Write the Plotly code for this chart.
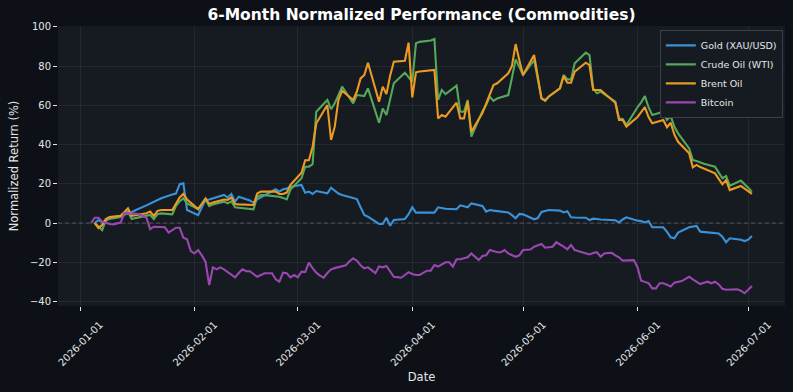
import plotly.graph_objects as go

# ---------------- data ----------------
# business-day dates shared by the three commodity series
comm_days = {
    1: [5, 6, 7, 8, 9, 12, 13, 14, 15, 16, 19, 20, 21, 22, 23, 26, 27, 28, 29, 30],
    2: [2, 3, 4, 5, 6, 9, 10, 11, 12, 13, 16, 17, 18, 19, 20, 23, 24, 25, 26, 27],
    3: [2, 3, 4, 5, 6, 9, 10, 11, 12, 13, 16, 17, 18, 19, 20, 23, 24, 25, 26, 27, 30, 31],
    4: [1, 2, 3, 6, 7, 8, 9, 10, 13, 14, 15, 16, 17, 20, 21, 22, 23, 24, 27, 28, 29, 30],
    5: [1, 4, 5, 6, 7, 8, 11, 12, 13, 14, 15, 18, 19, 20, 21, 22, 26, 27, 28, 29],
    6: [1, 2, 3, 4, 5, 8, 9, 10, 11, 12, 15, 16, 17, 18, 19, 22, 23, 24, 25, 26, 29, 30],
    7: [1, 2],
}

gold = (
    [0, 1.5, 0.5, 1, 2.5, 3.5, 5, 4.5, 5.5, 6.5, 9, 10, 11, 12, 12.6, 14.5, 15, 19.8, 20.2, 6.6]
    + [4, 8, 11.7, 12, 12.6, 14.3, 13, 14.8, 10.9, 13.4, 11.5, 10.3, 12, 13.1, 14, 17.2, 16, 17.2, 17.5, 18.5]
    + [19.4, 15.4, 16, 14.8, 16.3, 15.1, 18, 16.5, 15, 14.3, 12.6, 12.2, 8, 4.1, 3.2, -0.5, -0.5, 2.7, -1.4, 1.5, 2, 4.5]
    + [8, 5.3, 5.3, 5.3, 5.3, 8, 7.6, 7.3, 7, 9, 8.5, 8, 10, 8.7, 5.8, 6.6, 6.3, 6, 5.4, 4, 2.4, 4.6]
    + [4.4, 1.9, 2.5, 5.6, 6.2, 6.6, 6.3, 5.4, 6, 2.9, 2.8, 2.7, 1.5, 2.2, 2, 1.8, 1.4, 0.3, 1.8, 2.9]
    + [1.2, 1, 0.3, 1, -2.2, -2.2, -4.5, -7.3, -7.8, -4.9, -2.2, -2, -1.5, -4.4, -4.6, -5, -5.3, -7, -9.8, -7.8, -8.5, -9.2]
    + [-8.5, -6.6]
)

crude = (
    [0, -2, -3.6, 1.5, 2, 3, 4, 6, 2, 2.5, 3.5, 4.1, 2, 4.5, 4.9, 4.4, 8.7, 11, 12.6, 10]
    + [7, 9.5, 12, 8.6, 9.5, 10.9, 10, 11, 8, 7.8, 7.4, 7, 13.4, 14.3, 14.2, 13.8, 13.4, 12.8, 12, 17]
    + [22.8, 28.7, 28.7, 30, 56.7, 62.7, 58, 61, 65.2, 69.5, 61, 65.2, 65, 64.7, 68.6, 51.1, 58.4, 55, 63, 71.2, 76.6, 74]
    + [72, 91.6, 92.3, 93, 93.8, 62.7, 67.8, 65.7, 70, 56.7, 56.7, 62.7, 44, 57, 60.1, 64.4, 62.2, 63.5, 65.2, 74, 83.4, 79.5]
    + [75.4, 83, 73, 63.5, 62.7, 64.5, 68.6, 75.4, 73.2, 73.2, 81.4, 86.8, 85.6, 68.6, 66.1, 66.9, 61.8, 53.3, 53, 49.9]
    + [59, 61.5, 64.7, 59, 55, 56.7, 52.5, 54.5, 49, 45.7, 38, 32.1, 31.6, 30.8, 30.2, 28.7, 26, 22.8, 23.9, 19, 21.6, 20]
    + [18, 16]
)

brent = (
    [0, -2.5, -1, 2, 3, 3.7, 5.5, 7.5, 3.6, 4, 5, 5.8, 3.6, 6.2, 6.6, 6.6, 10, 13, 14.8, 12]
    + [7.1, 10, 12.6, 9.7, 10.5, 12, 11.8, 13, 9.7, 9.5, 9.3, 9.2, 15, 16, 16, 16, 14.8, 14.8, 15.5, 19.5]
    + [25.6, 32, 32, 38.9, 50.8, 60.1, 42.3, 49.1, 62.7, 67.4, 62.7, 67, 73.7, 75.4, 81.7, 61.8, 69.5, 65.7, 75, 82.2, 82.7, 91.9]
    + [64, 76.8, 77.2, 77.7, 78, 53.3, 55, 54.2, 61.3, 53.3, 53.3, 61.8, 46.5, 56, 61, 66, 70.3, 71.2, 76.3, 80, 91.2, 83]
    + [75.4, 85.6, 74, 63.5, 62.2, 64.5, 68.6, 74.9, 71.5, 71.5, 77.1, 81.7, 80.5, 67.8, 67.8, 67.8, 61.3, 52.5, 52.5, 49.1]
    + [54, 56.5, 59, 54, 50.8, 52.5, 48.8, 51.1, 45, 41.4, 35.5, 28.4, 29.6, 28.5, 27.6, 25.3, 22.5, 19.7, 21.9, 16.8, 18.9, 17.5]
    + [16, 14.8]
)

# Bitcoin trades every day
btc_days = {
    1: [4, 5, 6, 7, 9, 10, 12, 13, 14, 17, 19, 20, 21, 24, 25, 27, 28, 29, 30, 31],
    2: list(range(1, 29)),
    3: list(range(1, 32)),
    4: list(range(1, 31)),
    5: list(range(1, 32)),
    6: list(range(1, 31)),
    7: [1, 2],
}
bitcoin = (
    [0, 2.7, 2.7, 0.7, -0.5, -0.7, 0.2, 4.9, 4.9, 4.6, 2.7, -3.1, -1.9, -2.2, -4.9, -2.4, -2.4, -7.5, -8.3, -14.3]
    + [-15.5, -13.8, -16.5, -19.7, -31.6, -22.6, -23.6, -22.6, -23.6, -25, -26.5, -27.7, -25.5, -23.6,
       -24.6, -24.6, -26, -27.4, -26.5, -25.6, -25.6, -25.6, -28.7, -29.9, -25.3, -25.6, -27.7, -26.5]
    + [-27.7, -24.8, -25, -20.2, -23, -25.3, -26.8, -27.9, -25.5, -23.6, -23, -22.6, -22.2, -21.5, -19.5, -18,
       -19.2, -21.5, -23.1, -22.6, -24, -25.6, -22.2, -22.6, -21.9, -25, -27.4, -27.6, -27.9, -26.5, -25.1]
    + [-26, -26.5, -26.5, -25.5, -24.3, -24.3, -21.4, -22.2, -21, -20, -20, -22.2, -18.5, -18.5, -18,
       -17.5, -15.5, -17, -18.9, -16.8, -16.5, -13.8, -14.5, -14.9, -14.9, -13.8, -15.5, -16.5, -17.2, -16.5]
    + [-13.8, -13.6, -13.5, -12.1, -11.5, -10.7, -12.6, -12.2, -12.1, -9.8, -10.7, -12, -13.4, -11.2, -13.8, -14.3,
       -14.9, -15.5, -16, -15.3, -14.9, -17.2, -15.5, -15.3, -15.2, -16.5, -17.5, -19.2, -19.2, -19, -18.9]
    + [-22.5, -29.4, -30, -30.7, -33.3, -33.3, -30.7, -30.7, -31.5, -32.4, -30.4, -30, -29.6, -28.5, -27.4,
       -28.7, -30, -31.1, -30.5, -29.9, -30.7, -29.9, -31.3, -33.5, -34, -34, -34.1, -33.8, -34.5, -35.8]
    + [-34, -32.1]
)

series_names = ["Gold (XAU/USD)", "Crude Oil (WTI)", "Brent Oil", "Bitcoin"]
series_colors = ["#3a93d8", "#55a85a", "#eb9a22", "#9b47b1"]
y_ticks = [-40, -20, 0, 20, 40, 60, 80, 100]
x_ticks = ["2026-01-01", "2026-02-01", "2026-03-01", "2026-04-01", "2026-05-01", "2026-06-01", "2026-07-01"]


def make_dates(day_map):
    out = []
    for m in sorted(day_map):
        for d in day_map[m]:
            out.append(f"2026-{m:02d}-{d:02d}")
    return out


comm_dates = make_dates(comm_days)
btc_dates = make_dates(btc_days)

# ---------------- figure ----------------
fig = go.Figure()
for name, color, xs, ys in zip(
    series_names, series_colors,
    [comm_dates, comm_dates, comm_dates, btc_dates],
    [gold, crude, brent, bitcoin],
):
    fig.add_trace(go.Scatter(x=xs, y=ys, mode="lines", name=name,
                             line=dict(color=color, width=2.1)))

fig.add_shape(type="line", xref="paper", x0=0, x1=1, yref="y", y0=0, y1=0,
              line=dict(color="rgba(140,140,150,0.45)", width=1, dash="4px,3px"), layer="below")

font_main = "DejaVu Sans, Verdana, sans-serif"
fig.update_layout(
    width=793, height=392,
    margin=dict(l=58, r=8, t=26, b=86),
    paper_bgcolor="#0d1117",
    plot_bgcolor="#161b22",
    font=dict(family=font_main, color="#e6e6e6", size=10),
    title=dict(text="<b>6-Month Normalized Performance (Commodities)</b>",
               x=0.5315, xanchor="center", y=1 - 15 / 392, yanchor="middle",
               font=dict(size=15.5, color="#ffffff")),
    showlegend=True,
    legend=dict(x=0.997, y=0.986, xanchor="right", yanchor="top",
                bgcolor="#161b22", bordercolor="#3b4048", borderwidth=1,
                font=dict(size=9.5, color="#e6e6e6"), itemwidth=30,
                tracegroupgap=0),
)
fig.update_xaxes(
    type="date",
    range=["2025-12-26 01:00", "2026-07-10 23:00"],
    tickvals=x_ticks, tickformat="%Y-%m-%d", tickangle=-45,
    ticks="outside", ticklen=4, tickcolor="#e6e6e6",
    ticklabelshift=20, ticklabelstandoff=4,
    showgrid=True, gridcolor="rgba(255,255,255,0.06)", gridwidth=1,
    zeroline=False, showline=False,
    title=dict(text="Date", font=dict(size=11.5), standoff=5),
    tickfont=dict(size=10),
)
fig.update_yaxes(
    range=[-42.3, 100.4],
    tickvals=y_ticks,
    ticks="outside", ticklen=4, tickcolor="#e6e6e6",
    showgrid=True, gridcolor="rgba(255,255,255,0.06)", gridwidth=1,
    zeroline=False, showline=False,
    title=dict(text="Normalized Return (%)", font=dict(size=11.5), standoff=8),
    tickfont=dict(size=10),
)

fig.write_html("out.html")
